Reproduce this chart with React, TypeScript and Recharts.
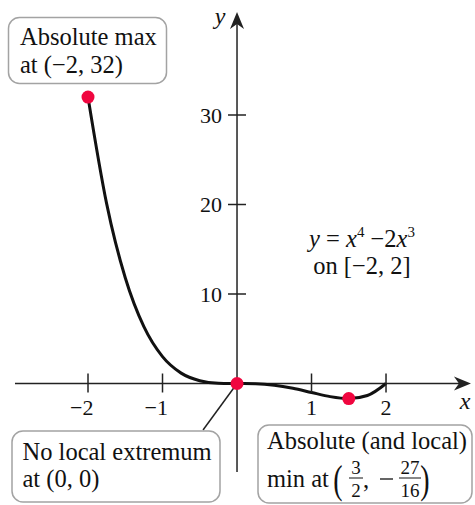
import React from 'react';
import { LineChart, Line, XAxis, YAxis, ReferenceLine, ReferenceDot } from 'recharts';

// y = x^4 - 2x^3 sampled on [-2, 2]
const xs = [-2, -1.75, -1.5, -1.25, -1, -0.75, -0.5, -0.25, 0, 0.25, 0.5, 0.75, 1, 1.25, 1.5, 1.75, 2];
const ys = [32, 20.0977, 11.8125, 6.3477, 3, 1.1602, 0.3125, 0.0352, 0, -0.0273, -0.1875, -0.5273, -1, -1.4648, -1.6875, -1.3398, 0];

const extremaX = [-2, 0, 1.5];
const extremaY = [32, 0, -27 / 16];

const xTicks = [-2, -1, 1, 2];
const yTicks = [10, 20, 30];

const data = xs.map((x, i) => ({ x, y: ys[i] }));

const SERIF = '"Liberation Serif", "Times New Roman", serif';
const INK = '#222';
const RED = '#f0063f';
const BOX = '#a3a3a3';

const XTick = ({ cx, cy, value }: any) => (
  <g>
    <line x1={cx} x2={cx} y1={cy - 10} y2={cy + 9} stroke={INK} strokeWidth={1.5} />
    <text x={cx + 5.5} y={cy + 31} textAnchor="end" fontFamily={SERIF} fontSize={22} fill="#111">
      {value < 0 ? `\u2212${-value}` : value}
    </text>
  </g>
);

const YTick = ({ cx, cy, value }: any) => (
  <g>
    <line x1={cx - 9} x2={cx + 9} y1={cy} y2={cy} stroke={INK} strokeWidth={1.5} />
    <text x={cx - 15} y={cy + 7.5} textAnchor="end" fontFamily={SERIF} fontSize={22} fill="#111">
      {value}
    </text>
  </g>
);

const ArrowRight = ({ cx, cy }: any) => (
  <path d={`M${cx},${cy} L${cx - 17},${cy - 7} L${cx - 12},${cy} L${cx - 17},${cy + 7} Z`} fill={INK} />
);

const ArrowUp = ({ cx, cy }: any) => (
  <path d={`M${cx},${cy} L${cx - 7},${cy + 17} L${cx},${cy + 12} L${cx + 7},${cy + 17} Z`} fill={INK} />
);

const Dot = ({ cx, cy }: any) => <circle cx={cx} cy={cy} r={6.5} fill={RED} />;

function Annotations() {
  const t = { fontFamily: SERIF, fontSize: 24.5, fill: '#111' };
  const frac = { fontFamily: SERIF, fontSize: 19, fill: '#111', textAnchor: 'middle' as const };
  return (
    <svg width={475} height={505} style={{ position: 'absolute', left: 0, top: 0, pointerEvents: 'none' }}>
      {/* axis names */}
      <text x={220} y={24} textAnchor="middle" fontFamily={SERIF} fontStyle="italic" fontSize={24} fill="#111">y</text>
      <text x={465} y={409} textAnchor="middle" fontFamily={SERIF} fontStyle="italic" fontSize={24} fill="#111">x</text>

      {/* function label */}
      <text x={362} y={247} textAnchor="middle" {...t}>
        <tspan fontStyle="italic">y</tspan> = <tspan fontStyle="italic">x</tspan>
        <tspan fontSize={15} dy={-10}>4</tspan>
        <tspan dy={10}> {'\u2212'}2</tspan><tspan fontStyle="italic">x</tspan>
        <tspan fontSize={15} dy={-10}>3</tspan>
      </text>
      <text x={362} y={274} textAnchor="middle" {...t}>on [{'\u2212'}2, 2]</text>

      {/* absolute max */}
      <rect x={8.5} y={17.5} width={158} height={66} rx={11} fill="#fff" stroke={BOX} strokeWidth={1.5} />
      <text x={20} y={45} {...t}>Absolute max</text>
      <text x={20} y={73} {...t}>at ({'\u2212'}2, 32)</text>

      {/* no extremum */}
      <rect x={12} y={431} width={208} height={71} rx={11} fill="#fff" stroke={BOX} strokeWidth={1.5} />
      <text x={22.5} y={460} {...t}>No local extremum</text>
      <text x={22.5} y={487} {...t}>at (0, 0)</text>

      {/* absolute min */}
      <rect x={258} y={425} width={214} height={78} rx={11} fill="#fff" stroke={BOX} strokeWidth={1.5} />
      <text x={267} y={449} {...t}>Absolute (and local)</text>
      <text x={267} y={487} {...t}>min at</text>
      <text x={338} y={493} textAnchor="middle" fontFamily={SERIF} fontSize={40} fill="#111" transform="translate(338 493) scale(0.7 1) translate(-338 -493)">(</text>
      <text x={356} y={474} {...frac}>3</text>
      <line x1={349} x2={363} y1={478} y2={478} stroke="#111" strokeWidth={1} />
      <text x={356} y={497} {...frac}>2</text>
      <text x={366} y={488} textAnchor="middle" {...t}>,</text>
      <line x1={380} x2={393} y1={479} y2={479} stroke="#111" strokeWidth={1.3} />
      <text x={410} y={474} {...frac}>27</text>
      <line x1={399} x2={421} y1={478} y2={478} stroke="#111" strokeWidth={1} />
      <text x={410} y={497} {...frac}>16</text>
      <text x={425} y={493} textAnchor="middle" fontFamily={SERIF} fontSize={40} fill="#111" transform="translate(425 493) scale(0.7 1) translate(-425 -493)">)</text>
    </svg>
  );
}

export default function App() {
  return (
    <div style={{ position: 'absolute', left: 0, top: 0, width: 475, height: 505, background: '#fff' }}>
      <LineChart width={475} height={505} data={data} margin={{ top: 7.6, right: 3.3, bottom: 32, left: 13.5 }}>
        <XAxis dataKey="x" type="number" domain={[-3, 3.15]} hide allowDataOverflow />
        <YAxis type="number" domain={[-10, 42]} hide allowDataOverflow />

        <ReferenceLine segment={[{ x: -2.98, y: 0 }, { x: 3.0, y: 0 }]} stroke={INK} strokeWidth={1.5} />
        <ReferenceLine segment={[{ x: 0, y: -9.9 }, { x: 0, y: 40.5 }]} stroke={INK} strokeWidth={1.5} />
        <ReferenceDot x={3.14} y={0} shape={ArrowRight} />
        <ReferenceDot x={0} y={41.5} shape={ArrowUp} />

        {xTicks.map((v) => (
          <ReferenceDot key={`xt${v}`} x={v} y={0} shape={(p: any) => <XTick {...p} value={v} />} />
        ))}
        {yTicks.map((v) => (
          <ReferenceDot key={`yt${v}`} x={0} y={v} shape={(p: any) => <YTick {...p} value={v} />} />
        ))}

        {/* leader from the origin down to its note */}
        <ReferenceLine segment={[{ x: 0, y: 0 }, { x: -0.456, y: -5.2 }]} stroke={INK} strokeWidth={1.5} />

        <Line dataKey="y" type="monotone" stroke="#111" strokeWidth={3} dot={false} isAnimationActive={false} />

        {extremaX.map((x, i) => (
          <ReferenceDot key={`e${i}`} x={x} y={extremaY[i]} shape={Dot} />
        ))}
      </LineChart>
      <Annotations />
    </div>
  );
}
